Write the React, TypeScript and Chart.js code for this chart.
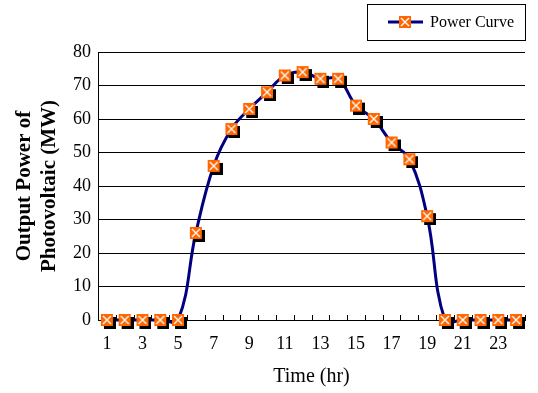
import React, { useEffect, useRef } from "react";
import { Chart, registerables } from "chart.js";

Chart.register(...registerables);

const hours = ["1","2","3","4","5","6","7","8","9","10","11","12","13","14","15","16","17","18","19","20","21","22","23","24"];
const power = [0, 0, 0, 0, 0, 26, 46, 57, 63, 68, 73, 74, 72, 72, 64, 60, 53, 48, 31, 0, 0, 0, 0, 0];
const yTicks = [0, 10, 20, 30, 40, 50, 60, 70, 80];
const seriesName = "Power Curve";
const xTitle = "Time (hr)";
const yTitle = ["Output Power of", "Photovoltaic (MW)"];

const ORANGE = "#ff6600";
const NAVY = "#000080";
const FONT = "'Liberation Serif', 'Times New Roman', serif";

function makeMarker(shadow: boolean) {
  const c = document.createElement("canvas");
  c.width = 18;
  c.height = 18;
  const ctx = c.getContext("2d")!;
  if (shadow) {
    ctx.fillStyle = "#000";
    ctx.fillRect(6, 6, 12, 12);
  }
  ctx.fillStyle = ORANGE;
  ctx.fillRect(3, 3, 12, 12);
  ctx.strokeStyle = "#fff";
  ctx.lineWidth = 1.3;
  ctx.beginPath();
  ctx.moveTo(5, 5);
  ctx.lineTo(13, 13);
  ctx.moveTo(13, 5);
  ctx.lineTo(5, 13);
  ctx.stroke();
  return c;
}

export default function App() {
  const ref = useRef<HTMLCanvasElement>(null);
  useEffect(() => {
    const marker = makeMarker(true);
    const legendMarker = makeMarker(false);

    const extras = {
      id: "extras",
      afterDraw(chart: any) {
        const ctx = chart.ctx;
        const area = chart.chartArea;
        ctx.save();
        ctx.strokeStyle = "#000";
        ctx.lineWidth = 1;
        const n = hours.length;
        const step = (area.right - area.left) / n;
        ctx.beginPath();
        for (let i = 0; i <= n; i++) {
          const px = Math.round(area.left + i * step) + 0.5;
          ctx.moveTo(px, area.bottom);
          ctx.lineTo(px, area.bottom - 5);
        }
        ctx.stroke();
        // legend
        ctx.fillStyle = "#fff";
        ctx.fillRect(367, 4, 158, 36);
        ctx.strokeStyle = "#000";
        ctx.lineWidth = 1;
        ctx.strokeRect(367.5, 4.5, 158, 36);
        ctx.strokeStyle = NAVY;
        ctx.lineWidth = 3;
        ctx.beginPath();
        ctx.moveTo(388, 22);
        ctx.lineTo(423, 22);
        ctx.stroke();
        ctx.drawImage(legendMarker, 405 - 9, 22 - 9);
        ctx.fillStyle = "#000";
        ctx.font = `16px ${FONT}`;
        ctx.textBaseline = "middle";
        ctx.textAlign = "left";
        ctx.fillText(seriesName, 430, 23);
        ctx.restore();
      },
    };

    const chart = new Chart(ref.current!, {
      type: "line",
      data: {
        labels: hours,
        datasets: [
          {
            label: seriesName,
            data: power,
            borderColor: NAVY,
            borderWidth: 3,
            tension: 0.4,
            pointStyle: marker as any,
            pointRadius: 9,
            pointHoverRadius: 9,
            clip: false as any,
          },
        ],
      },
      options: {
        animation: false,
        responsive: false,
        events: [],
        elements: { line: { capBezierPoints: false } },
        layout: { padding: { top: 52, right: 13, left: 0, bottom: 0 } },
        plugins: { legend: { display: false }, tooltip: { enabled: false } },
        scales: {
          x: {
            offset: true,
            grid: { display: false, drawTicks: false },
            border: { color: "#000", width: 1 },
            ticks: {
              autoSkip: false,
              maxRotation: 0,
              color: "#000",
              padding: 13,
              font: { family: FONT, size: 18 },
              callback: (_v: any, i: number) => (i % 2 === 0 ? hours[i] : ""),
            },
            title: {
              display: true,
              text: xTitle,
              color: "#000",
              font: { family: FONT, size: 20 },
              padding: { top: 4, bottom: 4 },
            },
            afterFit: (s: any) => {
              s.height = 73;
            },
          },
          y: {
            min: 0,
            max: 80,
            afterBuildTicks: (s: any) => {
              s.ticks = yTicks.map((v) => ({ value: v }));
            },
            grid: { color: "#000", lineWidth: 1, drawTicks: false },
            border: { color: "#000", width: 1 },
            ticks: {
              color: "#000",
              padding: 7,
              font: { family: FONT, size: 18 },
            },
            title: {
              display: true,
              text: yTitle,
              color: "#000",
              font: { family: FONT, size: 21, weight: "bold" },
              padding: { top: 12, bottom: 4 },
            },
            afterFit: (s: any) => {
              s.width = 98;
            },
          },
        },
      },
      plugins: [extras],
    });
    return () => chart.destroy();
  }, []);
  return (
    <div style={{ position: "fixed", left: 0, top: 0, width: 538, height: 393, background: "#fff" }}>
      <canvas ref={ref} width={538} height={393} style={{ width: 538, height: 393 }} />
    </div>
  );
}
